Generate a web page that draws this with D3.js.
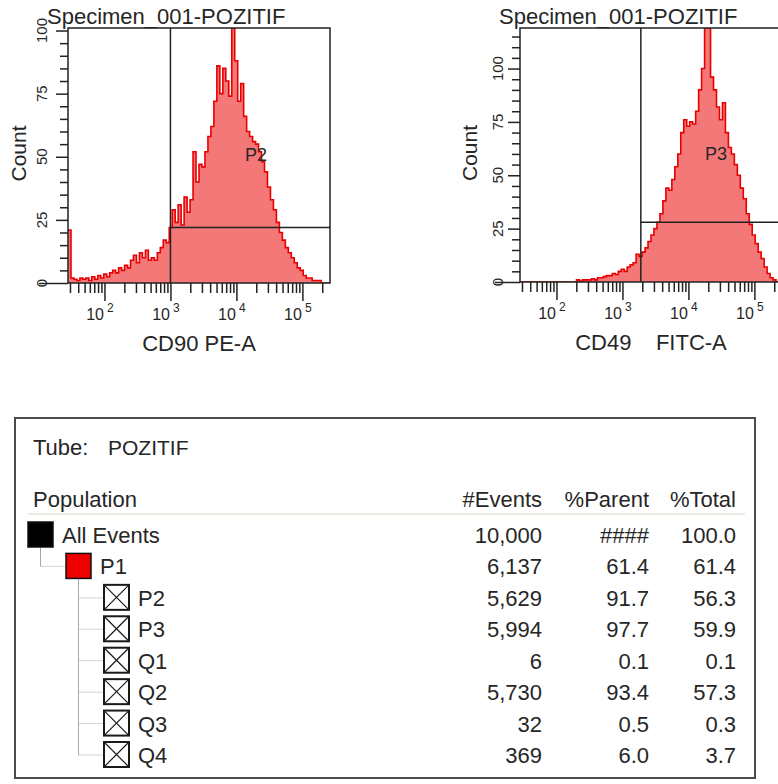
<!DOCTYPE html>
<html>
<head>
<meta charset="utf-8">
<script src="https://cdn.jsdelivr.net/npm/d3@7"></script>
<style>
  body { margin: 0; background: #fff; }
  text { font-family: "Liberation Sans", Arial, sans-serif; fill: #262626; }
</style>
</head>
<body>
<svg id="chart" width="778" height="784"></svg>
<script>
// histogram counts, 88 log-spaced bins from 28 to 262144
const cd90Counts = [
  21, 2, 1.5, 1, 2, 1.5, 2, 1, 2.5, 1.5,
  3, 2, 3.5, 2.5, 4, 5, 4, 6, 5, 7,
  6, 9, 11, 8, 12, 10, 13, 9, 10, 9,
  12, 14, 17, 16, 22, 29, 24, 31, 23, 34,
  28, 33, 52, 40, 47, 46, 52, 58, 62, 72,
  86, 75, 85, 80, 74, 101, 88, 72, 79, 66,
  60, 58, 56, 55, 52, 48, 44, 38, 33, 29,
  24, 20, 17, 14, 12, 10, 8, 6, 5, 3,
  2, 2, 1, 1, 1, 0, 0, 0
];
const cd49Counts = [
  0, 0, 0, 0, 0, 0, 0, 0, 0, 0,
  0, 0, 0, 0, 0, 0, 0, 0, 0, 1,
  0.5, 1, 1, 1, 1.5, 1, 2, 2, 2.5, 3,
  3, 4, 3.5, 5, 6, 5, 7, 8, 9, 13,
  12, 14, 16, 19, 22, 25, 28, 32, 38, 44,
  43, 48, 54, 60, 70, 76, 73, 75, 74, 80,
  90, 100, 119, 119, 96, 90, 82, 76, 84, 70,
  63, 60, 55, 50, 44, 39, 32, 27, 22, 18,
  14, 11, 7, 4, 2, 1, 0, 0
];
const xRange = [28, 262144];
const xDecades = [100, 1000, 10000, 100000];
const yLabels = [0, 25, 50, 75, 100];

// statistics table
const populations = ['All Events', 'P1', 'P2', 'P3', 'Q1', 'Q2', 'Q3', 'Q4'];
const levels = [0, 1, 2, 2, 2, 2, 2, 2];
const events = [10000, 6137, 5629, 5994, 6, 5730, 32, 369];
const pctParent = [null, 61.4, 91.7, 97.7, 0.1, 93.4, 0.5, 6.0];
const pctTotal = [100.0, 61.4, 56.3, 59.9, 0.1, 57.3, 0.3, 3.7];

const plots = [
  { title: 'Specimen_001-POZITIF', xLabel: 'CD90 PE-A', counts: cd90Counts, yMax: 101,
    gateLow: 1000, gateLevel: 22, gateName: 'P2', gateLabel: [19800, 51],
    left: 68, top: 28, bottom: 283, yGap: 21, countX: 26 },
  { title: 'Specimen_001-POZITIF', xLabel: 'CD49    FITC-A', counts: cd49Counts, yMax: 119,
    gateLow: 1900, gateLevel: 28, gateName: 'P3', gateLabel: [26240, 60],
    left: 520, top: 28, bottom: 282, yGap: 17, countX: 477 }
];
const plotWidth = 262;
const ink = '#222';

const svg = d3.select('#chart');

plots.forEach((p, pi) => {
  const x = d3.scaleLog().domain(xRange).range([p.left, p.left + plotWidth]);
  const y = d3.scaleLinear().domain([0, p.yMax]).range([p.bottom, p.top]);
  const g = svg.append('g');

  const n = p.counts.length;
  const lo = Math.log10(xRange[0]), hi = Math.log10(xRange[1]);
  const edges = d3.range(n + 1).map(i => Math.pow(10, lo + i * (hi - lo) / n));
  const pts = p.counts.map((c, i) => ({ v: edges[i], c }));
  pts.push({ v: edges[n], c: p.counts[n - 1] });

  const clipId = 'clip' + pi;
  g.append('clipPath').attr('id', clipId).append('rect')
    .attr('x', p.left).attr('y', p.top).attr('width', plotWidth).attr('height', p.bottom - p.top);

  const area = d3.area().curve(d3.curveStepAfter)
    .x(d => x(d.v)).y0(y(0)).y1(d => y(d.c));
  const line = d3.line().curve(d3.curveStepAfter)
    .x(d => x(d.v)).y(d => y(d.c));

  const h = g.append('g').attr('clip-path', `url(#${clipId})`);
  h.append('path').datum(pts).attr('d', area).attr('fill', '#f47878');
  h.append('path').datum(pts).attr('d', line)
    .attr('fill', 'none').attr('stroke', '#e80000').attr('stroke-width', 1.6);

  // gate
  g.append('line').attr('x1', x(p.gateLow)).attr('x2', x(p.gateLow))
    .attr('y1', p.top).attr('y2', p.bottom).attr('stroke', ink).attr('stroke-width', 1.5);
  g.append('line').attr('x1', x(p.gateLow)).attr('x2', p.left + plotWidth)
    .attr('y1', y(p.gateLevel)).attr('y2', y(p.gateLevel)).attr('stroke', ink).attr('stroke-width', 1.5);
  g.append('text').attr('x', x(p.gateLabel[0])).attr('y', y(p.gateLabel[1]))
    .attr('dy', '0.36em').attr('text-anchor', 'middle').attr('font-size', 18)
    .text(p.gateName);

  // frame
  g.append('rect').attr('x', p.left).attr('y', p.top)
    .attr('width', plotWidth).attr('height', p.bottom - p.top)
    .attr('fill', 'none').attr('stroke', ink).attr('stroke-width', 1.5);

  // x axis
  const minorX = [];
  for (let k = 1; k <= 5; k++) {
    for (let m = 1; m <= 9; m++) {
      const v = m * Math.pow(10, k);
      if (v >= xRange[0] && v <= xRange[1] && !xDecades.includes(v)) minorX.push(v);
    }
  }
  const xa = g.append('g').attr('transform', `translate(0,${p.bottom})`);
  xa.call(d3.axisBottom(x).tickValues(minorX).tickSize(10).tickFormat(''));
  const xm = g.append('g').attr('transform', `translate(0,${p.bottom})`);
  xm.call(d3.axisBottom(x).tickValues(xDecades).tickSize(18).tickFormat(''));
  xm.selectAll('.tick').each(function (d) {
    const t = d3.select(this);
    t.append('text').attr('x', -1).attr('y', 37).attr('text-anchor', 'end')
      .attr('font-size', 16).attr('fill', '#262626').text('10');
    t.append('text').attr('x', 2).attr('y', 29).attr('text-anchor', 'start')
      .attr('font-size', 12).attr('fill', '#262626').text(Math.round(Math.log10(d)));
  });
  g.append('text').attr('x', p.left + 131).attr('y', p.bottom + 68)
    .attr('text-anchor', 'middle').attr('font-size', 22)
    .style('white-space', 'pre').text(p.xLabel);

  // y axis
  const minorY = d3.range(5, p.yMax, 5).filter(v => v % 25 !== 0);
  const ya = g.append('g').attr('transform', `translate(${p.left},0)`);
  ya.call(d3.axisLeft(y).tickValues(minorY).tickSize(8).tickFormat(''));
  const ym = g.append('g').attr('transform', `translate(${p.left},0)`);
  ym.call(d3.axisLeft(y).tickValues(yLabels.slice(1)).tickSize(12).tickFormat(''));
  const yz = g.append('g').attr('transform', `translate(${p.left},0)`);
  yz.call(d3.axisLeft(y).tickValues([0]).tickSize(p.yGap + 8).tickFormat(''));
  g.selectAll('.domain').remove();
  g.selectAll('.tick line').attr('stroke', ink).attr('stroke-width', 1.5);

  g.selectAll('.ylab').data(yLabels).enter().append('text')
    .attr('transform', d => `translate(${p.left - p.yGap},${y(d)}) rotate(-90)`)
    .attr('text-anchor', 'middle').attr('font-size', 15).text(d => d);
  g.append('text')
    .attr('transform', `translate(${p.countX},${(p.top + p.bottom) / 2 - 2}) rotate(-90)`)
    .attr('text-anchor', 'middle').attr('font-size', 21).text('Count');

  // title
  g.append('text').attr('x', p.left - 21).attr('y', 24)
    .attr('font-size', 22).text(p.title);
});

// ---- statistics table ----
const tbl = svg.append('g');
tbl.append('rect').attr('x', 15).attr('y', 418).attr('width', 740).attr('height', 360)
  .attr('fill', 'none').attr('stroke', '#4a4a4a').attr('stroke-width', 2);

tbl.append('text').attr('x', 33).attr('y', 455).attr('font-size', 22).text('Tube:');
tbl.append('text').attr('x', 108).attr('y', 455).attr('font-size', 21).text('POZITIF');

const cols = [
  { name: '#Events', x: 542, fmt: (i) => d3.format(',')(events[i]) },
  { name: '%Parent', x: 649, fmt: (i) => pctParent[i] == null ? '####' : d3.format('.1f')(pctParent[i]) },
  { name: '%Total', x: 736, fmt: (i) => d3.format('.1f')(pctTotal[i]) }
];
tbl.append('text').attr('x', 33).attr('y', 507).attr('font-size', 22).text('Population');
cols.forEach(c => {
  tbl.append('text').attr('x', c.x).attr('y', 507).attr('text-anchor', 'end')
    .attr('font-size', 22).text(c.name);
});
tbl.append('line').attr('x1', 28).attr('x2', 745).attr('y1', 514).attr('y2', 514)
  .attr('stroke', '#e4e4da').attr('stroke-width', 1.5);

const rowY = d3.scaleLinear().domain([0, populations.length - 1]).range([543, 763]);
const indent = d3.scaleLinear().domain([0, 1]).range([28, 66]);
const box = 25;

// tree connectors
const treeColor = '#a8a8a8';
tbl.append('line').attr('x1', indent(0) + box / 2).attr('x2', indent(0) + box / 2)
  .attr('y1', rowY(0) - 21 + box).attr('y2', rowY(1) - 8).attr('stroke', treeColor);
tbl.append('line').attr('x1', indent(0) + box / 2).attr('x2', indent(1))
  .attr('y1', rowY(1) - 8).attr('y2', rowY(1) - 8).attr('stroke', treeColor)
  .attr('stroke-dasharray', '1,1');
tbl.append('line').attr('x1', indent(1) + box / 2).attr('x2', indent(1) + box / 2)
  .attr('y1', rowY(1) - 21 + box).attr('y2', rowY(populations.length - 1) - 8)
  .attr('stroke', treeColor);

populations.forEach((name, i) => {
  const lv = levels[i];
  const bx = indent(lv), by = rowY(i) - 21;
  if (lv === 2) {
    tbl.append('line').attr('x1', indent(1) + box / 2).attr('x2', bx)
      .attr('y1', rowY(i) - 8).attr('y2', rowY(i) - 8)
      .attr('stroke', treeColor).attr('stroke-dasharray', '1,1');
    tbl.append('rect').attr('x', bx).attr('y', by).attr('width', box).attr('height', box)
      .attr('fill', '#fff').attr('stroke', '#1a1a1a').attr('stroke-width', 2);
    tbl.append('path')
      .attr('d', `M${bx},${by}L${bx + box},${by + box}M${bx + box},${by}L${bx},${by + box}`)
      .attr('stroke', '#1a1a1a').attr('stroke-width', 1.2);
  } else {
    tbl.append('rect').attr('x', bx).attr('y', by).attr('width', box).attr('height', box)
      .attr('fill', lv === 0 ? '#000' : '#ee0000').attr('stroke', '#111').attr('stroke-width', 1.5);
  }
  tbl.append('text').attr('x', bx + box + 9).attr('y', rowY(i)).attr('font-size', 22).text(name);
  cols.forEach(c => {
    tbl.append('text').attr('x', c.x).attr('y', rowY(i)).attr('text-anchor', 'end')
      .attr('font-size', 22).text(c.fmt(i));
  });
});
</script>
</body>
</html>
